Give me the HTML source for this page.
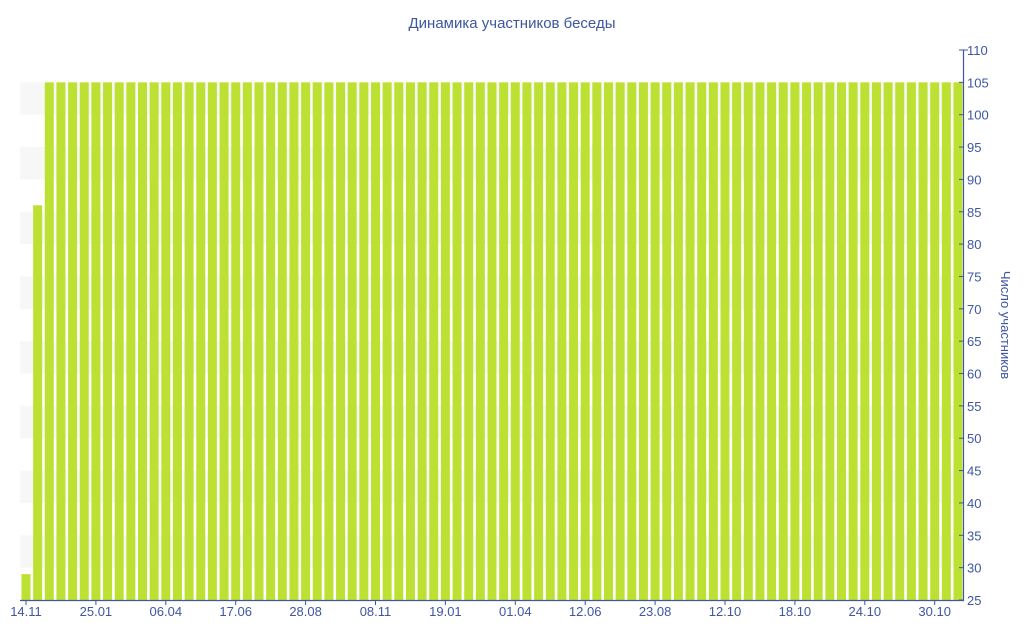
<!DOCTYPE html>
<html><head><meta charset="utf-8"><style>
html,body{margin:0;padding:0;background:#fff;}
svg{display:block;font-family:"Liberation Sans","DejaVu Sans",sans-serif;}
</style></head><body>
<svg id="c" width="1024" height="640" viewBox="0 0 1024 640" xmlns="http://www.w3.org/2000/svg">
<text x="512" y="28" text-anchor="middle" font-size="15" fill="#3d57a0">Динамика участников беседы</text>
<g id="bands" fill="#f7f7f7"></g>
<g id="bars" fill="#bde132"></g>
<line x1="20" y1="600.5" x2="964" y2="600.5" stroke="#3d57a0" stroke-width="1.2"/>
<line x1="963.5" y1="50" x2="963.5" y2="601" stroke="#3d57a0" stroke-width="1.2"/>
<g id="yt" font-size="13" fill="#3d57a0"></g>
<g id="xt" font-size="13" fill="#3d57a0"></g>
<text transform="translate(1001,325) rotate(90)" text-anchor="middle" font-size="13" fill="#3d57a0">Число участников</text>
</svg>
<script>
var NS="http://www.w3.org/2000/svg";
function el(p,t,a,txt){var e=document.createElementNS(NS,t);for(var k in a)e.setAttribute(k,a[k]);if(txt)e.textContent=txt;document.getElementById(p).appendChild(e);}
function Y(v){return 600-(v-25)*550/85;}
for(var v=30;v<110;v+=10){el('bands','rect',{x:20,y:Y(v+5),width:944,height:Y(v)-Y(v+5)});}
for(var i=0;i<81;i++){var c=26+i*11.65;var val=i==0?29:(i==1?86:105);
el('bars','rect',{x:c-4.5,y:Y(val),width:9,height:600-Y(val)});}
for(var v=25;v<=110;v+=5){var y=Y(v);
el('yt','line',{x1:959,y1:y,x2:(v==110?968:964),y2:y,stroke:'#3d57a0','stroke-width':1});
el('yt','text',{x:967,y:y+5},String(v));}
var labs=["14.11","25.01","06.04","17.06","28.08","08.11","19.01","01.04","12.06","23.08","12.10","18.10","24.10","30.10"];
for(var j=0;j<labs.length;j++){var x=26+j*69.9;
el('xt','line',{x1:x,y1:600,x2:x,y2:605,stroke:'#3d57a0','stroke-width':1});
el('xt','text',{x:x,y:616,'text-anchor':'middle'},labs[j]);}
</script>
</body></html>
